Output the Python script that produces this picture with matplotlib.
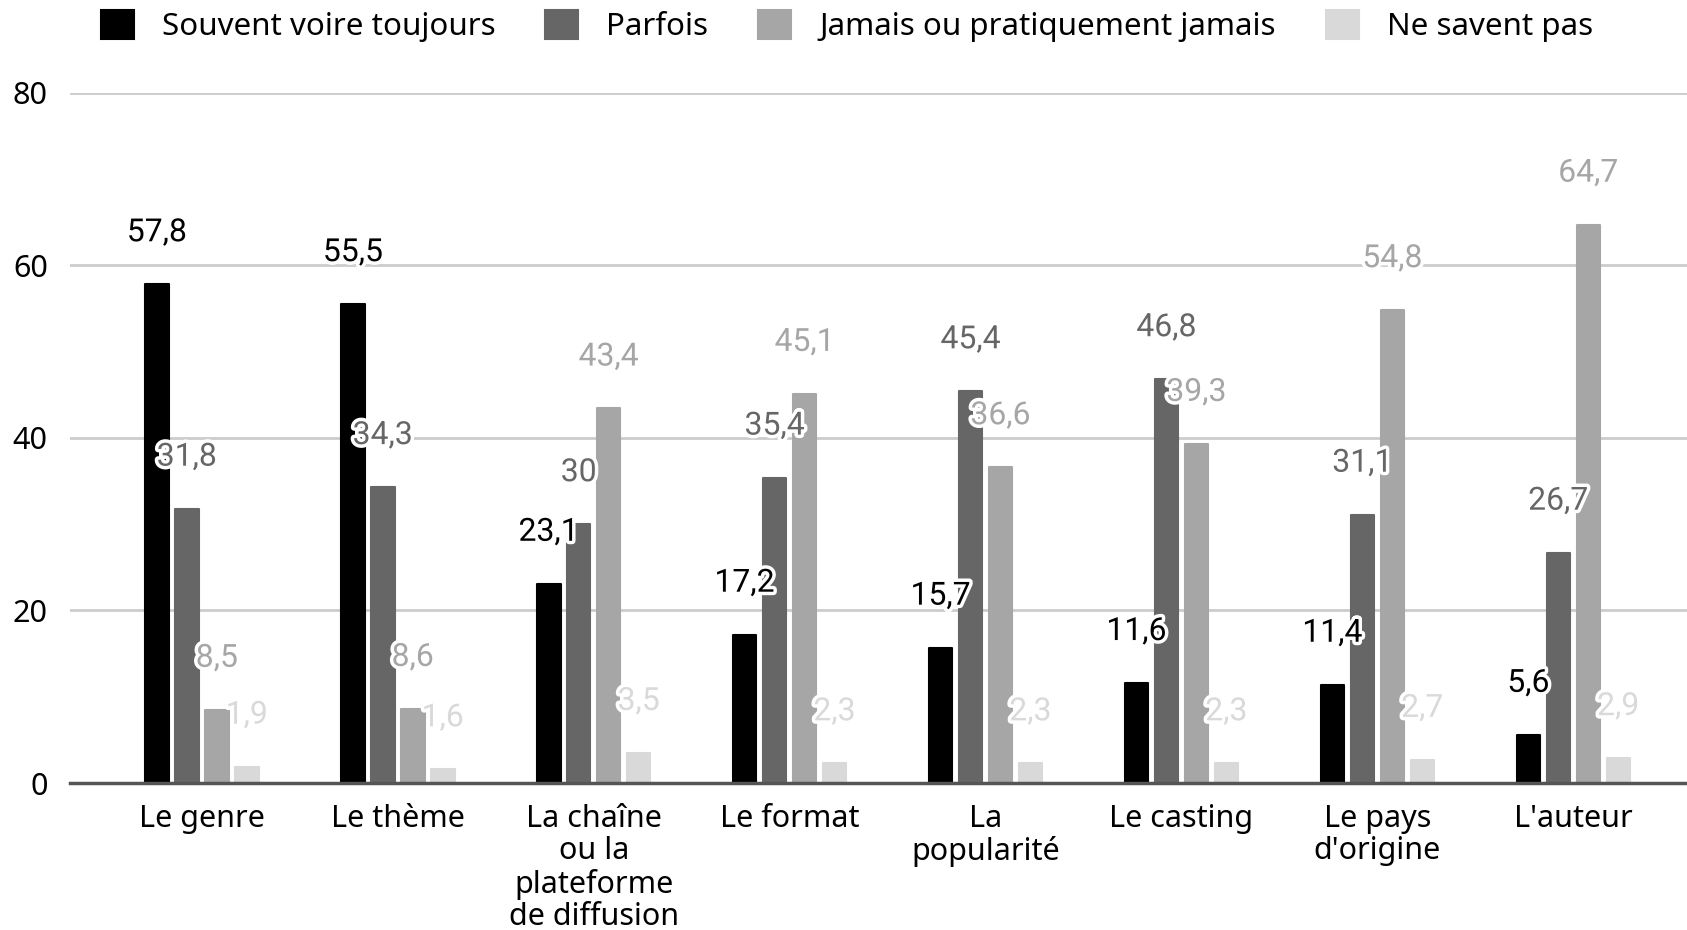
import matplotlib.pyplot as plt
import matplotlib.patheffects as pe
import numpy as np

# Data
categories = ["Le genre", "Le thème", "La chaîne\nou la\nplateforme\nde diffusion",
              "Le format", "La\npopularité", "Le casting", "Le pays\nd'origine", "L'auteur"]
series_names = ["Souvent voire toujours", "Parfois", "Jamais ou pratiquement jamais", "Ne savent pas"]
souvent = [57.8, 55.5, 23.1, 17.2, 15.7, 11.6, 11.4, 5.6]
parfois = [31.8, 34.3, 30, 35.4, 45.4, 46.8, 31.1, 26.7]
jamais = [8.5, 8.6, 43.4, 45.1, 36.6, 39.3, 54.8, 64.7]
ne_savent_pas = [1.9, 1.6, 3.5, 2.3, 2.3, 2.3, 2.7, 2.9]
yticks = [0, 20, 40, 60, 80]

series = [souvent, parfois, jamais, ne_savent_pas]
colors = ["#000000", "#666666", "#a6a6a6", "#d9d9d9"]

fig = plt.figure(figsize=(16.87, 9.30), dpi=100)
ax = fig.add_axes([0.0415, 0.158, 0.9585, 0.7425])

x = np.arange(len(categories))
step = 0.153
width = 0.12

handles = []
for i, (vals, col, name) in enumerate(zip(series, colors, series_names)):
    pos = x + (i - 1.5) * step
    bars = ax.bar(pos, vals, width, color=col, edgecolor=col, linewidth=1.5,
                  joinstyle="round", label=name, zorder=3)
    handles.append(bars)
    for p, v in zip(pos, vals):
        txt = f"{v:g}".replace(".", ",")
        ax.annotate(txt, (p, v), xytext=(0, 37), textcoords="offset points",
                    ha="center", va="center", fontsize=23, family="Roboto",
                    color=col, zorder=5,
                    path_effects=[pe.withStroke(linewidth=5, foreground="white")])

ax.set_xlim(-0.673, 7.58)
ax.set_ylim(0, 80)
ax.set_yticks(yticks)
ax.set_xticks(x)
ax.set_xticklabels(categories, fontsize=22, family="Noto Sans", linespacing=1.1)
ax.tick_params(axis="y", labelsize=22, length=0, pad=16)
ax.tick_params(axis="x", length=0, pad=15)
for lab in ax.get_yticklabels():
    lab.set_family("Noto Sans")

ax.grid(axis="y", color="#cccccc", linewidth=2, zorder=0)
ax.set_axisbelow(True)
for s in ["top", "right", "left"]:
    ax.spines[s].set_visible(False)
ax.spines["bottom"].set_color("#555555")
ax.spines["bottom"].set_linewidth(2.5)
ax.spines["bottom"].set_zorder(4)

fig.legend(handles=handles, loc="center", bbox_to_anchor=(0.502, 0.972), ncol=4,
           frameon=False, prop={"family": "Noto Sans", "size": 22.5},
           handlelength=1.05, handleheight=1.05, columnspacing=1.6, handletextpad=0.9)

fig.savefig("out.png", dpi=100)
